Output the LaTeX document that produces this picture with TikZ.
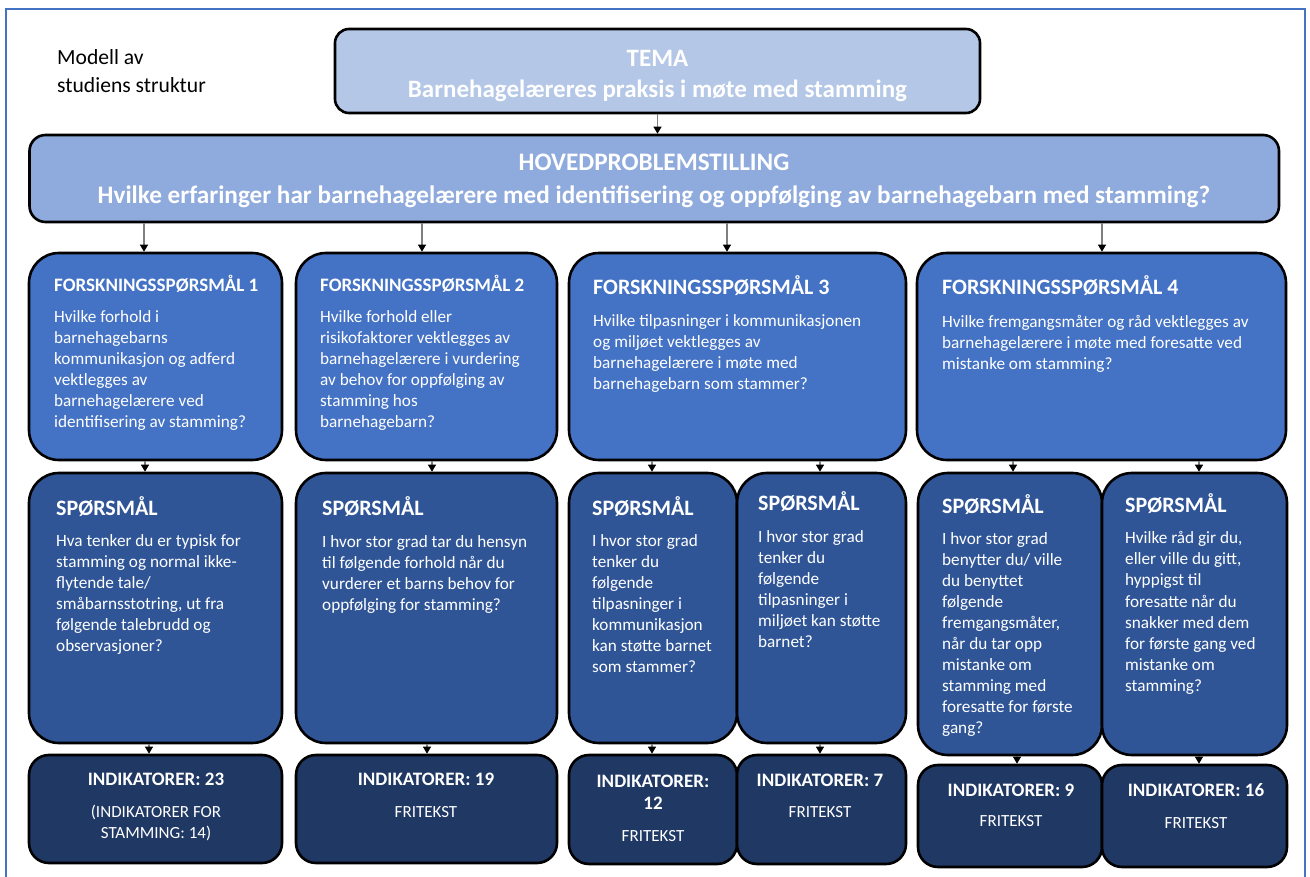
\documentclass[tikz,border=0pt]{standalone}
\usepackage{fontspec}
\setmainfont{Carlito}
\usetikzlibrary{arrows.meta}
\definecolor{temaC}{HTML}{B4C7E7}
\definecolor{hovedC}{HTML}{8FAADC}
\definecolor{fqC}{HTML}{4472C4}
\definecolor{spC}{HTML}{2F5597}
\definecolor{indC}{HTML}{203864}
\definecolor{frameC}{HTML}{4472C4}
\definecolor{lineC}{HTML}{7F7F7F}
\newcommand\fsz[2]{\fontsize{#1}{#2}\selectfont}
\begin{document}
\begin{tikzpicture}[x=1pt,y=-1pt,
  box/.style={draw=black, line width=2.6pt, inner sep=0pt, outer sep=1.3pt},
  temabox/.style={box, fill=temaC, rounded corners=14pt},
  hovedbox/.style={box, fill=hovedC, rounded corners=16pt},
  fqbox/.style={box, fill=fqC, rounded corners=30pt},
  spbox/.style={box, fill=spC, rounded corners=30pt},
  indbox/.style={box, fill=indC, rounded corners=20pt},
  bigtxt/.style={anchor=north, inner sep=0pt, text=white, align=center, font=\fsz{25}{32}\bfseries},
  ttlA/.style={anchor=base west, inner sep=0pt, text=white, font=\fsz{19}{23}\bfseries},
  ttlB/.style={anchor=base west, inner sep=0pt, text=white, font=\fsz{22}{26}\bfseries},
  body/.style={anchor=north west, inner sep=0pt, text=white, align=left, font=\fsz{17.2}{21}},
  indhead/.style={anchor=base, inner sep=0pt, text=white, font=\fsz{19}{22}\bfseries},
  indsub/.style={anchor=base, inner sep=0pt, text=white, font=\fsz{17}{20.5}},
  arr/.style={draw=lineC, line width=1.1pt, -{Triangle[length=7pt,width=8pt,color=black]}}
]
\useasboundingbox (0,0) rectangle (1310,877);
\draw[frameC, line width=2pt] (6,9) rectangle (1305,885);

% caption
\node[anchor=north west, inner sep=0pt, align=left, font=\fsz{21.6}{28}] (cap) at (57,44.3) {\strut Modell av\\studiens struktur};

% boxes
\node[temabox, minimum width=645, minimum height=84] (tema) at (657.5,71) {};
\node[hovedbox, minimum width=1249.5, minimum height=87] (hoved) at (654.25,178.5) {};

\node[fqbox, minimum width=253, minimum height=207] (fq1) at (155.5,356.5) {};
\node[fqbox, minimum width=261, minimum height=207] (fq2) at (426.5,356.5) {};
\node[fqbox, minimum width=337, minimum height=207] (fq3) at (737.5,356.5) {};
\node[fqbox, minimum width=369, minimum height=207] (fq4) at (1101.5,356.5) {};

\node[spbox, minimum width=253, minimum height=270] (sp1) at (155.5,608) {};
\node[spbox, minimum width=261, minimum height=270] (sp2) at (426.5,608) {};
\node[spbox, minimum width=168, minimum height=270] (sp3a) at (653,608) {};
\node[spbox, minimum width=169, minimum height=270] (sp3b) at (821.5,608) {};
\node[spbox, minimum width=184, minimum height=282] (sp4a) at (1010,614) {};
\node[spbox, minimum width=185, minimum height=282] (sp4b) at (1194.5,614) {};

\node[indbox, minimum width=253, minimum height=108] (ind1) at (155.5,809) {};
\node[indbox, minimum width=261, minimum height=108] (ind2) at (426.5,809) {};
\node[indbox, minimum width=168, minimum height=109] (ind3a) at (653,809.5) {};
\node[indbox, minimum width=169, minimum height=109] (ind3b) at (821.5,809.5) {};
\node[indbox, minimum width=184, minimum height=102] (ind4a) at (1010,816) {};
\node[indbox, minimum width=185, minimum height=102] (ind4b) at (1194.5,816) {};

% texts top
\node[bigtxt, font=\fsz{25}{31}\bfseries] (tematxt) at (657.5,44.3) {\strut TEMA\\Barnehagelæreres praksis i møte med stamming};
\node[bigtxt, font=\fsz{25.2}{33}\bfseries] (hovedtxt) at (654,147.4) {\strut HOVEDPROBLEMSTILLING\\Hvilke erfaringer har barnehagelærere med identifisering og oppfølging av barnehagebarn med stamming?};

% research questions
\node[ttlA] (fq1t) at (54,291.1) {FORSKNINGSSPØRSMÅL 1};
\node[body, font=\fsz{17.2}{20.9}] (fq1b) at (54,307.9) {\strut Hvilke forhold i\\barnehagebarns\\kommunikasjon og adferd\\vektlegges av\\barnehagelærere ved\\identifisering av stamming?};
\node[ttlA] (fq2t) at (320,291.1) {FORSKNINGSSPØRSMÅL 2};
\node[body, font=\fsz{17.2}{20.9}] (fq2b) at (320,307.9) {\strut Hvilke forhold eller\\risikofaktorer vektlegges av\\barnehagelærere i vurdering\\av behov for oppfølging av\\stamming hos\\barnehagebarn?};
\node[ttlB] (fq3t) at (593,295) {FORSKNINGSSPØRSMÅL 3};
\node[body] (fq3b) at (593,311.8) {\strut Hvilke tilpasninger i kommunikasjonen\\og miljøet vektlegges av\\barnehagelærere i møte med\\barnehagebarn som stammer?};
\node[ttlB] (fq4t) at (942,295) {FORSKNINGSSPØRSMÅL 4};
\node[body] (fq4b) at (942,312.8) {\strut Hvilke fremgangsmåter og råd vektlegges av\\barnehagelærere i møte med foresatte ved\\mistanke om stamming?};

% questions
\node[ttlB] (sp1t) at (56,515) {SPØRSMÅL};
\node[body, font=\fsz{17.2}{20.9}] (sp1b) at (56,531.9) {\strut Hva tenker du er typisk for\\stamming og normal ikke-\\flytende tale/\\småbarnsstotring, ut fra\\følgende talebrudd og\\observasjoner?};
\node[ttlB] (sp2t) at (322,515) {SPØRSMÅL};
\node[body, font=\fsz{17.2}{20.9}] (sp2b) at (322,532.9) {\strut I hvor stor grad tar du hensyn\\til følgende forhold når du\\vurderer et barns behov for\\oppfølging for stamming?};
\node[ttlB] (sp3at) at (592,515) {SPØRSMÅL};
\node[body] (sp3ab) at (592,531.8) {\strut I hvor stor grad\\tenker du\\følgende\\tilpasninger i\\kommunikasjon\\kan støtte barnet\\som stammer?};
\node[ttlB] (sp3bt) at (758,510) {SPØRSMÅL};
\node[body] (sp3bb) at (758,527.8) {\strut I hvor stor grad\\tenker du\\følgende\\tilpasninger i\\miljøet kan støtte\\barnet?};
\node[ttlB] (sp4at) at (942,513) {SPØRSMÅL};
\node[body] (sp4ab) at (942,529.8) {\strut I hvor stor grad\\benytter du/ ville\\du benyttet\\følgende\\fremgangsmåter,\\når du tar opp\\mistanke om\\stamming med\\foresatte for første\\gang?};
\node[ttlB] (sp4bt) at (1125,512) {SPØRSMÅL};
\node[body, font=\fsz{17.2}{21.1}] (sp4bb) at (1125,528.8) {\strut Hvilke råd gir du,\\eller ville du gitt,\\hyppigst til\\foresatte når du\\snakker med dem\\for første gang ved\\mistanke om\\stamming?};

% indicators
\node[indhead] (ind1h) at (156,785.1) {INDIKATORER: 23};
\node[indsub, anchor=north, align=center] (ind1s) at (156,803) {\strut (INDIKATORER FOR\\STAMMING: 14)};
\node[indhead] (ind2h) at (426,785.1) {INDIKATORER: 19};
\node[indsub] (ind2s) at (426,817.4) {FRITEKST};
\node[indhead, anchor=north, align=center] (ind3ah) at (653,771.7) {\strut INDIKATORER:\\12};
\node[indsub] (ind3as) at (653,841.4) {FRITEKST};
\node[indhead] (ind3bh) at (820,786.1) {INDIKATORER: 7};
\node[indsub] (ind3bs) at (820,817.4) {FRITEKST};
\node[indhead] (ind4ah) at (1011,796.1) {INDIKATORER: 9};
\node[indsub] (ind4as) at (1011,826.4) {FRITEKST};
\node[indhead] (ind4bh) at (1196,796.1) {INDIKATORER: 16};
\node[indsub] (ind4bs) at (1196,828.4) {FRITEKST};

% connector end points
\coordinate (c1) at ([xshift=-11.5pt]fq1.north);
\coordinate (c2) at ([xshift=-4.5pt]fq2.north);
\coordinate (c3) at ([xshift=-10.5pt]fq3.north);
\coordinate (c4) at ([xshift=0.5pt]fq4.north);
\coordinate (d1) at ([xshift=-10.5pt]sp1.north);
\coordinate (d2) at ([xshift=5.5pt]sp2.north);
\coordinate (d3) at ([xshift=-1pt]sp3a.north);
\coordinate (d4) at ([xshift=-1.5pt]sp3b.north);
\coordinate (d5) at ([xshift=3pt]sp4a.north);
\coordinate (d6) at ([xshift=4.5pt]sp4b.north);
\coordinate (e1) at ([xshift=-6.5pt]ind1.north);
\coordinate (e2) at ([xshift=0.5pt]ind2.north);
\coordinate (e3) at ([xshift=-1pt]ind3a.north);
\coordinate (e4) at ([xshift=-1.5pt]ind3b.north);
\coordinate (e5) at ([xshift=7pt]ind4a.north);
\coordinate (e6) at ([xshift=4.5pt]ind4b.north);

% connectors
\draw[arr] (tema.south) -- (tema.south |- hoved.north);
\draw[arr] (hoved.south -| c1) -- (c1);
\draw[arr] (hoved.south -| c2) -- (c2);
\draw[arr] (hoved.south -| c3) -- (c3);
\draw[arr] (hoved.south -| c4) -- (c4);
\draw[arr] (fq1.south -| d1) -- (d1);
\draw[arr] (fq2.south -| d2) -- (d2);
\draw[arr] (fq3.south -| d3) -- (d3);
\draw[arr] (fq3.south -| d4) -- (d4);
\draw[arr] (fq4.south -| d5) -- (d5);
\draw[arr] (fq4.south -| d6) -- (d6);
\draw[arr] (sp1.south -| e1) -- (e1);
\draw[arr] (sp2.south -| e2) -- (e2);
\draw[arr] (sp3a.south -| e3) -- (e3);
\draw[arr] (sp3b.south -| e4) -- (e4);
\draw[arr] (sp4a.south -| e5) -- (e5);
\draw[arr] (sp4b.south -| e6) -- (e6);
\end{tikzpicture}
\end{document}
